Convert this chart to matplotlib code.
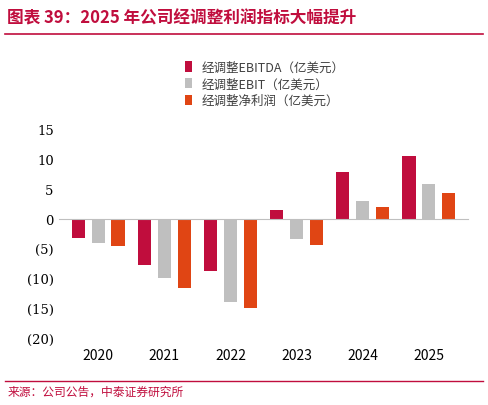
import matplotlib
matplotlib.use("Agg")
import matplotlib.pyplot as plt
import numpy as np

plt.rcParams['font.family'] = ['Noto Sans CJK SC', 'DejaVu Sans']

years = ["2020", "2021", "2022", "2023", "2024", "2025"]
ebitda = [-3.2, -7.8, -8.8, 1.5, 7.8, 10.5]
ebit = [-4.1, -10.0, -14.0, -3.4, 3.0, 5.8]
net = [-4.6, -11.7, -14.9, -4.4, 2.0, 4.3]
series_names = ["经调整EBITDA（亿美元）", "经调整EBIT（亿美元）", "经调整净利润（亿美元）"]
colors = ["#C00D3D", "#BFBFBF", "#E04514"]

fig = plt.figure(figsize=(4.88, 4.06), dpi=100)
fig.text(0.015, 0.955, "图表 39：2025 年公司经调整利润指标大幅提升", color="#C00D3D",
         fontsize=12, fontweight="bold", style="italic", va="center")
fig.add_artist(plt.Line2D([0.01, 0.99], [0.915, 0.915], color="#C00D3D", lw=1.2))
fig.add_artist(plt.Line2D([0.01, 0.99], [0.06, 0.06], color="#C00D3D", lw=1.0))
fig.text(0.015, 0.035, "来源：公司公告，中泰证券研究所", color="#C00D3D", fontsize=8.5, va="center")

ax = fig.add_axes([0.12, 0.165, 0.84, 0.515])
x = np.arange(len(years))
w = 0.2
for i, (vals, name, c) in enumerate(zip([ebitda, ebit, net], series_names, colors)):
    ax.bar(x + (i - 1) * 0.3, vals, w, color=c, label=name)
ax.set_ylim(-20, 15)
ax.set_yticks(range(-20, 16, 5))
ax.set_yticklabels([f"({abs(v)})" if v < 0 else str(v) for v in range(-20, 16, 5)], fontsize=9.5)
ax.set_xticks(x)
ax.set_xticklabels(years, fontsize=9.5, family="DejaVu Serif")
ax.set_xlim(-0.6, 5.6)
for s in ["top", "right", "left"]:
    ax.spines[s].set_visible(False)
ax.spines["bottom"].set_position(("data", 0))
ax.spines["bottom"].set_color("#BFBFBF")
ax.tick_params(axis="x", length=0, pad=93)
ax.tick_params(axis="y", length=0)
for t in ax.get_yticklabels():
    t.set_family("DejaVu Serif")
ax.legend(loc="lower left", bbox_to_anchor=(0.28, 1.05), frameon=False, fontsize=9,
          handlelength=0.6, handleheight=0.9, labelspacing=0.3, labelcolor="#404040")
fig.savefig("out.png", dpi=100)
